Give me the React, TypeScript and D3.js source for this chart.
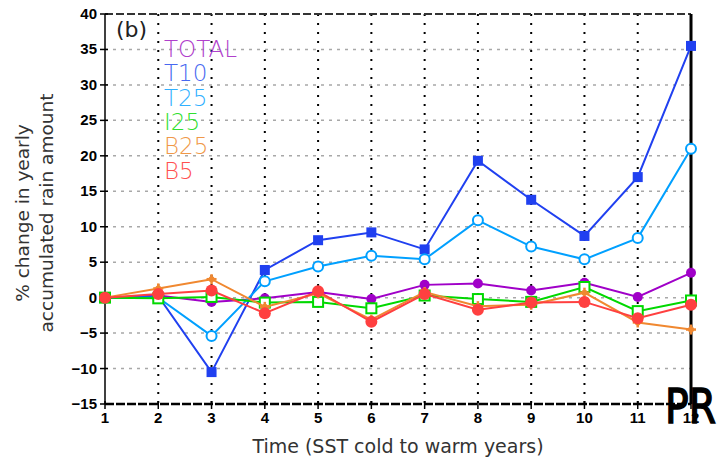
import React from "react";
import * as d3 from "d3";

const xValues = [1, 2, 3, 4, 5, 6, 7, 8, 9, 10, 11, 12];
const yTicks = [-15, -10, -5, 0, 5, 10, 15, 20, 25, 30, 35, 40];

const seriesNames = ["TOTAL", "T10", "T25", "I25", "B25", "B5"];
const totalVals = [0, 0.3, -0.6, -0.1, 0.8, -0.2, 1.8, 2.0, 1.0, 2.1, 0.1, 3.5];
const t10Vals = [0, 0.2, -10.5, 3.9, 8.1, 9.2, 6.8, 19.3, 13.8, 8.7, 17.0, 35.5];
const t25Vals = [0, 0, -5.4, 2.3, 4.4, 5.9, 5.4, 10.9, 7.2, 5.4, 8.4, 21.0];
const i25Vals = [0, -0.1, 0.1, -0.7, -0.6, -1.5, 0.3, -0.2, -0.6, 1.5, -1.9, -0.4];
const b25Vals = [0, 1.3, 2.6, -1.3, 0.6, -3.1, 0.8, -1.2, -1.0, 0.7, -3.5, -4.5];
const b5Vals = [0, 0.5, 1.0, -2.2, 0.9, -3.4, 0.5, -1.7, -0.7, -0.6, -2.9, -1.0];

const lineColors = ["#a000c8", "#2040f0", "#00a0ff", "#00d800", "#f08830", "#ff4040"];
const legendColors = ["#b040cc", "#4868f0", "#30b0ff", "#30e030", "#f09848", "#ff5050"];
const markerTypes = ["dot", "square", "ocircle", "osquare", "plus", "bigdot"];

const allVals = [totalVals, t10Vals, t25Vals, i25Vals, b25Vals, b5Vals];

export default function App() {
  const W = 720, H = 469;
  const x = d3.scaleLinear().domain([1, 12]).range([105, 691]);
  const y = d3.scaleLinear().domain([-15, 40]).range([404, 14]);
  const line = d3.line<number>().x((_, i) => x(xValues[i])).y((v) => y(v));
  const font = "'Liberation Sans', Arial, sans-serif";
  const thin = "'DejaVu Sans', sans-serif";

  const marker = (type: string, cx: number, cy: number, c: string, k: string) => {
    switch (type) {
      case "dot":
        return <circle key={k} cx={cx} cy={cy} r={5} fill={c} />;
      case "bigdot":
        return <circle key={k} cx={cx} cy={cy} r={6} fill={c} />;
      case "square":
        return <rect key={k} x={cx - 5} y={cy - 5} width={10} height={10} fill={c} />;
      case "ocircle":
        return <circle key={k} cx={cx} cy={cy} r={5} fill="white" stroke={c} strokeWidth={2} />;
      case "osquare":
        return <rect key={k} x={cx - 5} y={cy - 5} width={10} height={10} fill="white" stroke={c} strokeWidth={2} />;
      case "plus":
        return (
          <g key={k} stroke={c} strokeWidth={2.5}>
            <line x1={cx - 5} x2={cx + 5} y1={cy} y2={cy} />
            <line x1={cx} x2={cx} y1={cy - 5} y2={cy + 5} />
            <circle cx={cx} cy={cy} r={3} fill={c} stroke="none" />
          </g>
        );
    }
    return null;
  };

  return (
    <svg width={W} height={H} style={{ position: "absolute", left: 0, top: 0, background: "white" }}>
      <rect x={0} y={0} width={W} height={H} fill="white" />
      {/* horizontal grid */}
      {yTicks.slice(1, -1).map((t) => (
        <line key={"hg" + t} x1={x(1)} x2={x(12)} y1={y(t)} y2={y(t)} stroke="#a8a8a8" strokeWidth={1.5} strokeDasharray="3,5" />
      ))}
      {/* vertical grid */}
      {xValues.slice(1, -1).map((t) => (
        <line key={"vg" + t} x1={x(t)} x2={x(t)} y1={y(40)} y2={y(-15)} stroke="#000" strokeWidth={2} strokeDasharray="2,7" />
      ))}
      {/* frame */}
      <line x1={x(1)} x2={x(12)} y1={y(40)} y2={y(40)} stroke="#333" strokeWidth={2} strokeDasharray="8,3" />
      <line x1={x(1)} x2={x(12)} y1={y(-15)} y2={y(-15)} stroke="#000" strokeWidth={2.5} strokeDasharray="9,2" />
      <line x1={x(1)} x2={x(1)} y1={y(40)} y2={y(-15)} stroke="#000" strokeWidth={1.5} />
      <line x1={x(12)} x2={x(12)} y1={y(40)} y2={y(-15)} stroke="#000" strokeWidth={3} />
      {/* y ticks */}
      {yTicks.map((t) => (
        <g key={"yt" + t}>
          <line x1={x(1) - 5} x2={x(1) + 3} y1={y(t)} y2={y(t)} stroke="#000" strokeWidth={1.5} />
          <text x={x(1) - 8} y={y(t) + 5} textAnchor="end" fontFamily={font} fontWeight="bold" fontSize={15}>
            {t < 0 ? "\u2212" + Math.abs(t) : t}
          </text>
        </g>
      ))}
      {/* x ticks */}
      {xValues.map((t) => (
        <g key={"xt" + t}>
          <line x1={x(t)} x2={x(t)} y1={y(-15) - 3} y2={y(-15) + 5} stroke="#000" strokeWidth={1.5} />
          <text x={x(t)} y={y(-15) + 19} textAnchor="middle" fontFamily={font} fontWeight="bold" fontSize={15}>
            {t}
          </text>
        </g>
      ))}
      {/* series */}
      {allVals.map((vals, si) => (
        <g key={"s" + si}>
          <path d={line(vals) || ""} fill="none" stroke={lineColors[si]} strokeWidth={2} />
          {vals.map((v, i) => marker(markerTypes[si], x(xValues[i]), y(v), lineColors[si], "m" + si + "-" + i))}
        </g>
      ))}
      {/* legend */}
      {seriesNames.map((n, i) => (
        <text key={"lg" + n} x={164} y={57 + i * 24.3} fontFamily={thin} fontWeight="200" fontSize={23} fill={legendColors[i]}>
          {n}
        </text>
      ))}
      <text x={116} y={37} fontFamily={thin} fontSize={22} fill="#222">(b)</text>
      {/* axis labels */}
      <g transform="translate(29,213) rotate(-90)">
        <text x={0} y={0} textAnchor="middle" fontFamily={thin} fontSize={18.5} fill="#333">% change in yearly</text>
        <text x={0} y={24} textAnchor="middle" fontFamily={thin} fontSize={18.5} fill="#333">accumulated rain amount</text>
      </g>
      <text x={398} y={453} textAnchor="middle" fontFamily={thin} fontSize={19} fill="#333">Time (SST cold to warm years)</text>
      <text x={665} y={423} fontFamily={thin} fontSize={48} fill="#000" stroke="#000" strokeWidth={1.5}
        textLength={51} lengthAdjust="spacingAndGlyphs">PR</text>
    </svg>
  );
}
